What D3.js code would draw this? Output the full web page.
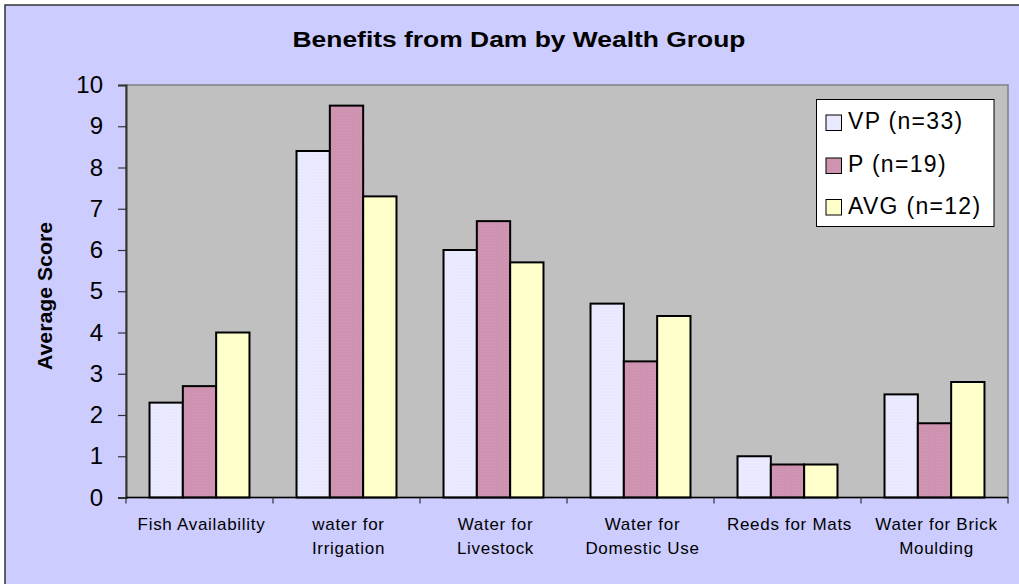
<!DOCTYPE html>
<html>
<head>
<meta charset="utf-8">
<script src="https://cdn.jsdelivr.net/npm/d3@7/dist/d3.min.js"></script>
<style>
  html, body { margin: 0; padding: 0; background: #ffffff; }
  svg { display: block; font-family: "Liberation Sans", Arial, sans-serif; }
</style>
</head>
<body>
<svg id="chart" width="1019" height="584"></svg>
<script>
const categories = [
  ["Fish Availability"],
  ["water for", "Irrigation"],
  ["Water for", "Livestock"],
  ["Water for", "Domestic Use"],
  ["Reeds for Mats"],
  ["Water for Brick", "Moulding"]
];
const seriesNames = ["VP (n=33)", "P (n=19)", "AVG (n=12)"];
const vpValues  = [2.3, 8.4, 6.0, 4.7, 1.0, 2.5];
const pValues   = [2.7, 9.5, 6.7, 3.3, 0.8, 1.8];
const avgValues = [4.0, 7.3, 5.7, 4.4, 0.8, 2.8];
const yTicks = [0, 1, 2, 3, 4, 5, 6, 7, 8, 9, 10];
const titleText = "Benefits from Dam by Wealth Group";
const yTitle = "Average Score";

const seriesValues = [vpValues, pValues, avgValues];
const catKeys = categories.map(c => c.join(" "));

const svg = d3.select("#chart");

// patterns
const defs = svg.append("defs");
function makePattern(id, base, dot) {
  const p = defs.append("pattern").attr("id", id).attr("patternUnits", "userSpaceOnUse")
    .attr("width", 3).attr("height", 3);
  p.append("rect").attr("width", 3).attr("height", 3).attr("fill", base);
  p.append("rect").attr("x", 0).attr("y", 0).attr("width", 1).attr("height", 1).attr("fill", dot);
  p.append("rect").attr("x", 1.5).attr("y", 1.5).attr("width", 1).attr("height", 1).attr("fill", dot);
}
makePattern("pVP", "#E6E6FF", "#F4F4FF");
makePattern("pP", "#CC8FAE", "#D7A2BC");
const fills = ["url(#pVP)", "url(#pP)", "#FFFFCC"];
const swatchFills = fills;

// chart background
svg.append("rect").attr("x", 5).attr("y", 5).attr("width", 1030).attr("height", 600)
  .attr("fill", "#CCCCFF").attr("stroke", "#333333").attr("stroke-width", 1.5);

const plotLeft = 126, plotRight = 1008, plotTop = 85, plotBottom = 497.5;

const x0 = d3.scaleBand().domain(catKeys).range([plotLeft, plotRight]).padding(0);
const x1 = d3.scaleBand().domain(seriesNames)
  .range([x0.bandwidth() * 0.16, x0.bandwidth() * 0.84]).padding(0);
const y = d3.scaleLinear().domain([0, 10]).range([plotBottom, plotTop]);

// plot area
svg.append("rect").attr("x", plotLeft).attr("y", plotTop)
  .attr("width", plotRight - plotLeft).attr("height", plotBottom - plotTop)
  .attr("fill", "#C0C0C0").attr("stroke", "#808080").attr("stroke-width", 1.5);

// bars
const groups = svg.append("g").selectAll("g").data(catKeys).join("g")
  .attr("transform", d => `translate(${x0(d)},0)`);
groups.selectAll("rect")
  .data((d, i) => seriesNames.map((s, j) => ({ s, j, v: seriesValues[j][i] })))
  .join("rect")
  .attr("x", d => x1(d.s))
  .attr("y", d => y(d.v))
  .attr("width", x1.bandwidth())
  .attr("height", d => y(0) - y(d.v))
  .attr("fill", d => fills[d.j])
  .attr("stroke", "#000000")
  .attr("stroke-width", 2);

// y axis
const yAxis = svg.append("g").attr("transform", `translate(${plotLeft},0)`)
  .call(d3.axisLeft(y).tickValues(yTicks).tickFormat(d3.format("d")).tickSize(8).tickPadding(15));
yAxis.select(".domain").attr("stroke", "#333333").attr("stroke-width", 2);
yAxis.selectAll(".tick line").attr("stroke", "#333333").attr("stroke-width", 1.2);
yAxis.selectAll(".tick text").attr("font-size", 24).attr("fill", "#000")
  .attr("font-family", "Liberation Sans, Arial, sans-serif");

// x axis
const xAxisG = svg.append("g").attr("transform", `translate(0,${plotBottom})`);
xAxisG.append("line").attr("x1", plotLeft).attr("x2", plotRight).attr("y1", 0).attr("y2", 0)
  .attr("stroke", "#000").attr("stroke-width", 1.5);
const boundaries = catKeys.map(k => x0(k)).concat([x0.range()[1]]);
xAxisG.selectAll("line.tk").data(boundaries).join("line").attr("class", "tk")
  .attr("x1", d => d).attr("x2", d => d).attr("y1", 0).attr("y2", 6)
  .attr("stroke", "#333").attr("stroke-width", 1.2);
const labels = xAxisG.selectAll("text.cat").data(categories).join("text").attr("class", "cat")
  .attr("x", (d, i) => x0(catKeys[i]) + x0.bandwidth() / 2 + 2)
  .attr("text-anchor", "middle").attr("font-size", 17).attr("letter-spacing", 0.7).attr("fill", "#000");
labels.selectAll("tspan").data(d => d).join("tspan")
  .attr("x", function() { return this.parentNode.getAttribute("x"); })
  .attr("y", (d, i) => 32.5 + i * 24)
  .text(d => d);

// title
svg.append("text").attr("x", 519).attr("y", 47).attr("text-anchor", "middle")
  .attr("font-size", 22).attr("font-weight", "bold")
  .attr("textLength", 453).attr("lengthAdjust", "spacingAndGlyphs")
  .text(titleText);

// y title
svg.append("text").attr("transform", "translate(52,296) rotate(-90)")
  .attr("text-anchor", "middle").attr("font-size", 20).attr("font-weight", "bold")
  .attr("textLength", 148).attr("lengthAdjust", "spacingAndGlyphs")
  .text(yTitle);

// legend
const leg = svg.append("g");
leg.append("rect").attr("x", 816.5).attr("y", 99.5).attr("width", 177.5).attr("height", 127)
  .attr("fill", "#FFFFFF").attr("stroke", "#000").attr("stroke-width", 1);
const rowsY = [122.5, 165.5, 207];
const items = leg.selectAll("g.item").data(seriesNames).join("g").attr("class", "item")
  .attr("transform", (d, i) => `translate(826,${rowsY[i]})`);
items.append("rect").attr("x", 0).attr("y", -7.5).attr("width", 15.5).attr("height", 15.5)
  .attr("fill", (d, i) => swatchFills[i]).attr("stroke", "#000").attr("stroke-width", 1);
items.append("text").attr("x", 22).attr("y", 6.5).attr("font-size", 23).attr("letter-spacing", 1.3)
  .text(d => d);
</script>
</body>
</html>
